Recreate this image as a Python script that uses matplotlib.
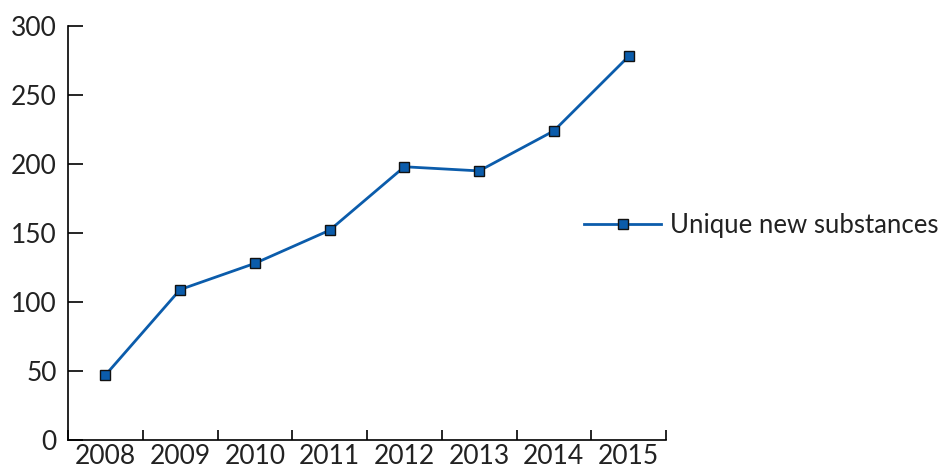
import matplotlib as mpl
mpl.use('Agg')
import matplotlib.pyplot as plt
import numpy as np

plt.rcParams['font.family'] = ['Lato', 'DejaVu Sans']

years = ['2008', '2009', '2010', '2011', '2012', '2013', '2014', '2015']
substances = [47, 109, 128, 152, 198, 195, 224, 278]
color = '#0b5cab'

fig = plt.figure(figsize=(9.42, 4.71), dpi=100)
ax = fig.add_axes([68/942, 31/471, (666-68)/942, (440-26)/471])

x = np.arange(len(years))
ax.plot(x, substances, color=color, linewidth=2, marker='s', markersize=7,
        markerfacecolor=color, markeredgecolor='#111111', markeredgewidth=1,
        label='Unique new substances')

ax.set_xlim(-0.5, len(years) - 0.5)
ax.set_ylim(0, 300)
ax.set_yticks(range(0, 301, 50))

# category boundaries as major ticks, labels on the minor ticks
ax.set_xticks(np.arange(-0.5, len(years), 1.0))
ax.set_xticklabels([])
ax.set_xticks(x, minor=True)
ax.set_xticklabels(years, minor=True)
ax.tick_params(axis='x', which='major', direction='in', length=7.5, width=1.2)
ax.tick_params(axis='x', which='minor', length=0, pad=3, labelsize=19, colors='#222222')
ax.tick_params(axis='y', direction='in', length=11, width=1.2, pad=8, labelsize=19, colors='#222222')
ax.tick_params(axis='both', color='black')

for s in ['top', 'right']:
    ax.spines[s].set_visible(False)
for s in ['left', 'bottom']:
    ax.spines[s].set_linewidth(1.2)

fig.legend(loc='center left', bbox_to_anchor=(561/942, (471-225)/471), frameon=False,
           fontsize=18.5, handlelength=3.0, handletextpad=0.35, labelcolor='#222222')

fig.savefig('out.png', dpi=100)
